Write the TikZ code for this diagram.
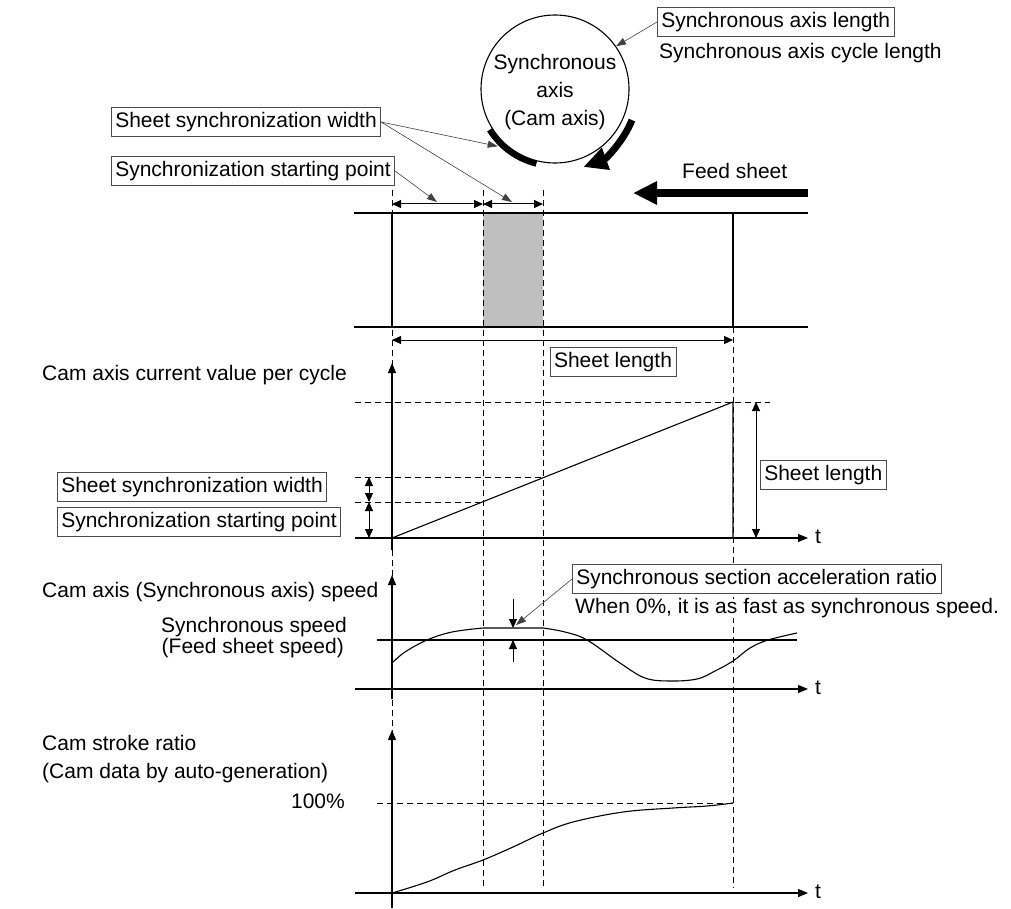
\documentclass[tikz,border=0pt]{standalone}
\usepackage{fontspec}
\setmainfont{Liberation Sans}
\usetikzlibrary{arrows.meta,calc}
\tikzset{every node/.style={font=\fontsize{21pt}{28pt}\selectfont},line cap=round,line join=round}
\tikzset{
  tag/.style={draw=black!70,line width=0.6pt,fill=white,inner xsep=4pt,inner ysep=5pt,
    text height=15pt,text depth=4pt,anchor=west},
  txt/.style={inner sep=0pt,text height=15pt,text depth=4pt,anchor=west},
  guide/.style={line width=0.9pt,line cap=butt,dash pattern=on 6pt off 4pt},
  dimln/.style={line width=1pt,{Triangle[length=9pt,width=8pt]}-{Triangle[length=9pt,width=8pt]}},
  axisln/.style={line width=1.1pt,-{Triangle[length=10pt,width=8pt]}},
  curveln/.style={line width=1.1pt},
  lead/.style={draw=black!75,line width=0.6pt,-{Triangle[length=10pt,width=7pt]}},
  sheetln/.style={line width=2.2pt}
}

\begin{document}
\begin{tikzpicture}[x=1pt,y=-1pt]
  \path[use as bounding box] (0,0) rectangle (1011,909);
  % sheet and guide lines
  \fill[black!25] (483,213) rectangle (543,327);
  \draw[guide] (392,190)--(392,905);
  \draw[guide] (483,190)--(483,888) (543,190)--(543,888);
  \draw[guide] (733,327)--(733,888);
  \draw[guide] (355,402)--(770,402) (355,477)--(543,477) (355,502)--(483,502);
  \draw[guide] (377,803)--(733,803);
  \draw[sheetln] (354,213)--(808,213) (354,327)--(808,327);
  \draw[sheetln] (392,213)--(392,327) (733,213)--(733,327);

  % rotating axis
  \node[circle,draw,line width=1.1pt,minimum size=148pt,inner sep=0pt] (axis) at (555,89) {};
  \node[align=center,inner sep=0pt] (axistxt) at (555,92) {Synchronous\\axis\\(Cam axis)};
  \draw[line width=6pt,line cap=butt] ($(axis.center)+(212:77pt)$) arc[start angle=212,end angle=256,radius=77pt];
  \draw[line width=7pt,line cap=butt,-{Triangle[length=24pt,width=22pt]}]
    ($(axis.center)+(-22:83pt)$) arc[start angle=-22,end angle=-70,radius=83pt];

  % labels
  \node[tag] (sal) at (657,22) {Synchronous axis length};
  \node[txt] (salc) at (659,53) {Synchronous axis cycle length};
  \node[tag] (ssw1) at (111,122) {Sheet synchronization width};
  \node[tag] (ssp1) at (111,171) {Synchronization starting point};
  \node[txt] (feed) at (682,173) {Feed sheet};
  \node[tag,anchor=center] (shl1) at (613,362) {Sheet length};
  \node[txt] (cur) at (42,375) {Cam axis current value per cycle};
  \node[tag] (ssw2) at (57,487) {Sheet synchronization width};
  \node[tag] (ssp2) at (57,522) {Synchronization starting point};
  \node[tag] (shl2) at (760,475) {Sheet length};
  \node[txt] (spd) at (42,592) {Cam axis (Synchronous axis) speed};
  \node[txt,anchor=east] (syn) at (347,627) {Synchronous speed};
  \node[txt,anchor=east] (fsp) at (344,648) {(Feed sheet speed)};
  \node[tag] (sar) at (572,579) {Synchronous section acceleration ratio};
  \node[txt,fill=white] (zero) at (575,608) {When 0\%, it is as fast as synchronous speed.};
  \node[txt] (str) at (42,745) {Cam stroke ratio};
  \node[txt] (gen) at (42,773) {(Cam data by auto-generation)};
  \node[txt,anchor=east] (full) at (345,803) {100\%};
  \node[txt] (t1) at (815,538) {t};
  \node[txt] (t2) at (815,689) {t};
  \node[txt] (t3) at (815,893) {t};

  % feed direction
  \draw[line width=8pt,line cap=butt,-{Triangle[length=24pt,width=22pt]}] (808,193)--(633,193);

  % leaders
  \draw[lead] (sal.west)--(axis.35);
  \draw[lead] (ssw1.east)--($(axis.center)+(225:81pt)$);
  \draw[lead] (ssw1.east)--(512,202);
  \draw[lead] (ssp1.east)--(437,202);
  \draw[lead] (sar.west)--(516,625);

  % dimensions
  \draw[dimln] (392,204)--(483,204);
  \draw[dimln] (483,204)--(543,204);
  \draw[dimln] (392,340)--(733,340);
  \draw[dimln] (369,477)--(369,502);
  \draw[dimln] (369,502)--(369,538);
  \draw[dimln] (756,402)--(756,538);

  % current value per cycle
  \draw[axisln] (392,550)--(392,363);
  \draw[axisln] (355,538)--(808,538);
  \draw[curveln] (392,538)--(733,402)--(733,538);

  % speed
  \draw[axisln] (392,699)--(392,575);
  \draw[axisln] (355,689)--(808,689);
  \draw[curveln] (377,640)--(797,640);
  \draw[curveln] plot[smooth,tension=0.6] coordinates {(392,663) (405,652) (427,640) (452,632) (483,628)}
    -- (543,628);
  \draw[curveln] plot[smooth,tension=0.6] coordinates {(543,628) (565,632) (587,640) (620,663) (645,678)
    (670,681) (697,679) (715,671) (733,661) (750,648) (768,640) (797,633)};
  \draw[line width=1pt,-{Triangle[length=9pt,width=8pt]}] (513,599)--(513,628);
  \draw[line width=1pt,-{Triangle[length=9pt,width=8pt]}] (513,662)--(513,640);

  % stroke ratio
  \draw[axisln] (392,908)--(392,730);
  \draw[axisln] (355,893)--(808,893);
  \draw[curveln] plot[smooth,tension=0.6] coordinates {(392,893) (427,882) (455,870) (483,860) (513,847)
    (543,833) (573,822) (623,812) (673,808) (707,806) (733,803)};
\end{tikzpicture}
\end{document}
